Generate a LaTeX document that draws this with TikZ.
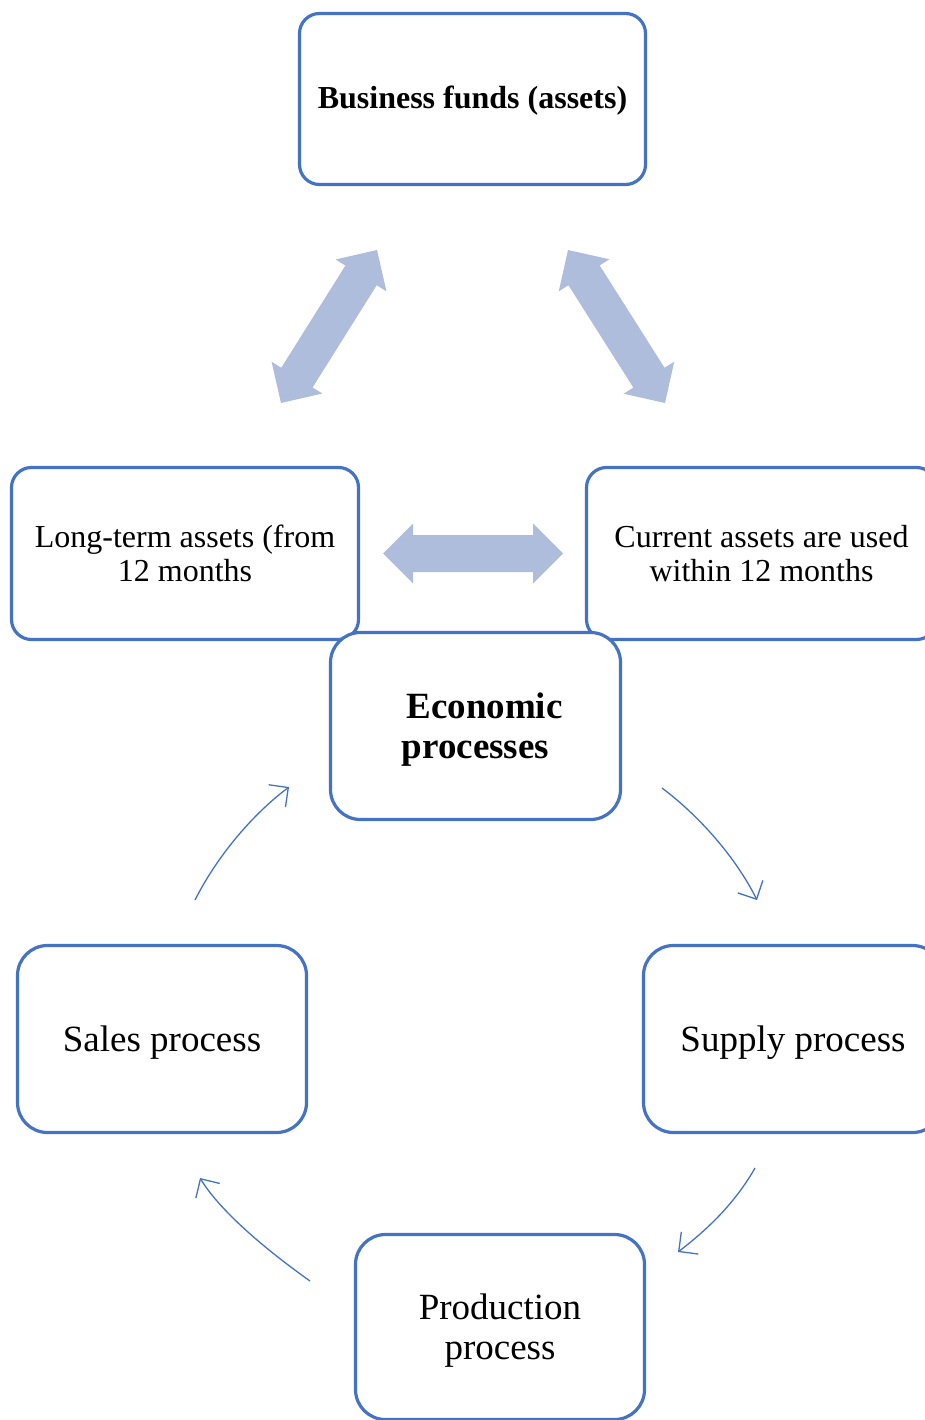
\documentclass[tikz,border=0pt]{standalone}
\usepackage{fontspec}
\setmainfont{Liberation Serif}
\usetikzlibrary{calc,arrows.meta}
\definecolor{boxblue}{RGB}{68,114,196}
\definecolor{arrowfill}{RGB}{175,189,221}
\newcommand\dblarrow[2]{%
  \fill[arrowfill] (#1)
   -- ($(#1)!30pt!(#2)!30pt!90:(#2)$)
   -- ($(#1)!30pt!(#2)!18.5pt!90:(#2)$)
   -- ($(#2)!30pt!(#1)!18.5pt!-90:(#1)$)
   -- ($(#2)!30pt!(#1)!30pt!-90:(#1)$)
   -- (#2)
   -- ($(#2)!30pt!(#1)!30pt!90:(#1)$)
   -- ($(#2)!30pt!(#1)!18.5pt!90:(#1)$)
   -- ($(#1)!30pt!(#2)!18.5pt!-90:(#2)$)
   -- ($(#1)!30pt!(#2)!30pt!-90:(#2)$)
   -- cycle;}
\newcommand\lowered[2]{\raisebox{-#1}[\height][\depth]{\begin{tabular}{@{}c@{}}#2\end{tabular}}}
\tikzset{
  box/.style={draw=boxblue, line width=3.2pt, fill=white, rounded corners=#1,
    align=center, inner sep=0pt, text=black},
  box/.default=30pt,
  smalltxt/.style={font=\fontsize{32}{33.5}\selectfont},
  bigtxt/.style={font=\fontsize{37}{40}\selectfont},
  thinarrow/.style={draw=boxblue, line width=1.3pt,
    -{Straight Barb[length=14pt,width=28pt]}}
}
\begin{document}
\begin{tikzpicture}[x=1pt,y=-1pt]
\useasboundingbox (0,0) rectangle (925,1420);
% boxes
\node[box=20pt, smalltxt, minimum width=346, minimum height=171] (funds) at (472.5,99)
  {\lowered{3pt}{\textbf{Business funds (assets)}}};
\node[box=20pt, smalltxt, minimum width=347, minimum height=172] (longterm) at (185,553.5)
  {Long-term assets (from\\12 months};
\node[box=20pt, smalltxt, minimum width=350, minimum height=172] (current) at (761.5,553.5)
  {Current assets are used\\within 12 months};
\node[box, bigtxt, minimum width=290, minimum height=187] (econ) at (475.5,726)
  {\lowered{4pt}{\hspace*{18pt}\textbf{Economic}\\\textbf{processes}}};
\node[box, bigtxt, minimum width=289, minimum height=187] (sales) at (162,1039)
  {\lowered{4.5pt}{Sales process}};
\node[box, bigtxt, minimum width=299, minimum height=187] (supply) at (793,1039)
  {\lowered{4.5pt}{Supply process}};
\node[box, bigtxt, minimum width=289, minimum height=185] (production) at (500,1327)
  {\lowered{4.5pt}{Production\\process}};
% block double arrows
\coordinate (la1) at (281,403);
\coordinate (la2) at (377,250);
\coordinate (ra1) at (568,250);
\coordinate (ra2) at (665,403);
\coordinate (ha1) at (383,553.5);
\coordinate (ha2) at (563,553.5);
\dblarrow{la1}{la2}
\dblarrow{ra1}{ra2}
\dblarrow{ha1}{ha2}
% thin curved arrows
\coordinate (s1) at (195,900);
\coordinate (e1) at (289,787);
\coordinate (s2) at (662,788);
\coordinate (e2) at (757,900);
\coordinate (s3) at (755,1168);
\coordinate (e3) at (678,1252);
\coordinate (s4) at (310,1281);
\coordinate (e4) at (200,1178);
\draw[thinarrow] (s1) .. controls (217.5,855.5) and (253,814) .. (e1);
\draw[thinarrow] (s2) .. controls (698,815) and (735,856) .. (e2);
\draw[thinarrow] (s3) .. controls (735,1203) and (708,1229) .. (e3);
\draw[thinarrow] (s4) .. controls (272,1254) and (222,1214) .. (e4);
\end{tikzpicture}
\end{document}
